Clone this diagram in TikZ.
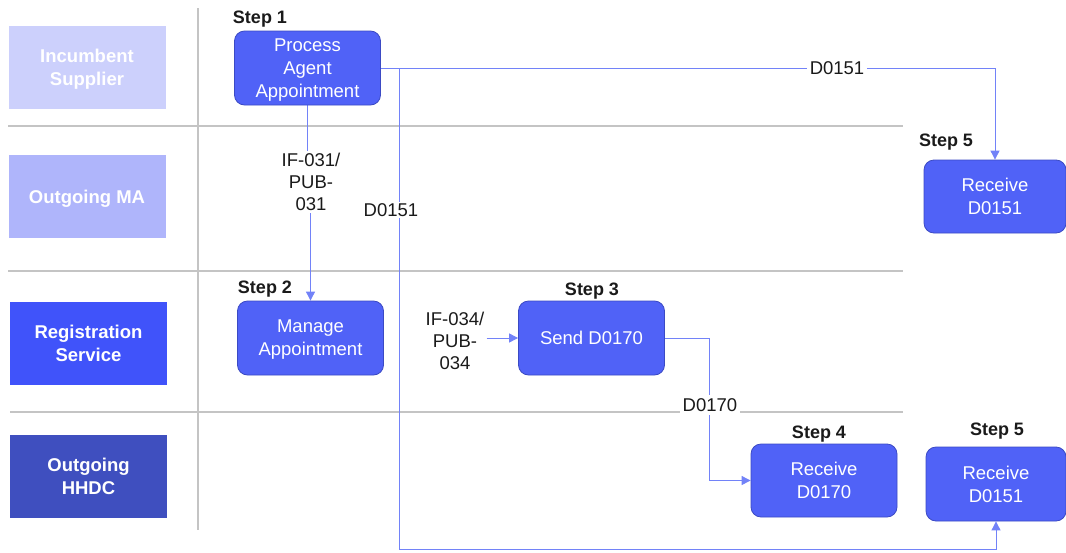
\documentclass[tikz,border=0pt]{standalone}
\usepackage{fontspec}
\setmainfont{Liberation Sans}
\usetikzlibrary{arrows.meta}
\definecolor{laneA}{HTML}{CCD0FC}
\definecolor{laneB}{HTML}{AFB5FB}
\definecolor{laneC}{HTML}{4053FA}
\definecolor{laneD}{HTML}{3F4FBF}
\definecolor{nodefill}{HTML}{5062F7}
\definecolor{nodeborder}{HTML}{3B4AC4}
\definecolor{flowc}{HTML}{7282F8}
\definecolor{sepc}{HTML}{C4C4C4}
\definecolor{txt}{HTML}{1A1A1A}
\pgfdeclarelayer{bg}
\pgfsetlayers{bg,main}
\begin{document}
\begin{tikzpicture}[x=1pt,y=-1pt,
  lanebox/.style={fill=#1, minimum width=157pt, minimum height=83pt, text=white,
    font=\fontsize{18.5}{23}\selectfont\bfseries, align=center, inner sep=0pt, text depth=0pt},
  stepbox/.style={draw=nodeborder, fill=nodefill, rounded corners=10pt, minimum width=146pt,
    minimum height=74pt, text=white, font=\fontsize{18.5}{23}\selectfont, align=center,
    inner sep=0pt, line width=0.8pt, text depth=0pt},
  steplabel/.style={font=\fontsize{18}{21}\selectfont\bfseries, text=txt},
  flowlabel/.style={font=\fontsize{18.5}{22}\selectfont, text=txt, align=center, fill=white, inner sep=3pt},
  flow/.style={draw=flowc, line width=0.9pt},
  arr/.style={-{Triangle[length=9pt,width=9pt]}, flowc},
  sep/.style={draw=sepc, line width=1.2pt}
]
\useasboundingbox (0,0) rectangle (1066,552);

% lane headers
\node[lanebox=laneA] (l1) at (87,67.5) {Incumbent\\Supplier};
\node[lanebox=laneB] (l2) at (87,196.5) {Outgoing MA};
\node[lanebox=laneC] (l3) at (88.5,343) {Registration\\Service};
\node[lanebox=laneD] (l4) at (88.5,476.5) {Outgoing\\HHDC};

% process boxes
\node[stepbox] (proc) at (307.5,68) {Process\\Agent\\Appointment};
\node[stepbox] (mng) at (310.5,338) {Manage\\Appointment};
\node[stepbox] (send) at (591.5,338) {Send D0170};
\node[stepbox, minimum height=73pt] (r170) at (824,480.5) {Receive\\D0170};
\node[stepbox, minimum width=142pt, minimum height=73pt] (rtop) at (995,196.5) {Receive\\D0151};
\node[stepbox, minimum width=140pt] (rbot) at (996,484) {Receive\\D0151};

% step labels
\node[steplabel] (s1) at (260,19.5) {Step 1};
\node[steplabel] (s2) at (265,289) {Step 2};
\node[steplabel] (s3) at (592,291) {Step 3};
\node[steplabel] (s4) at (819,434) {Step 4};
\node[steplabel] (s5a) at (946,142) {Step 5};
\node[steplabel] (s5b) at (997,431) {Step 5};

% flow labels
\node[flowlabel] (lbA) at (837,68) {D0151};
\node[flowlabel, inner sep=1pt] (lbB) at (391,210) {D0151};
\node[flowlabel, inner sep=2pt] (if031) at (311,182) {IF-031/\\PUB-\\031};
\node[flowlabel, fill=none, inner sep=2pt] (if034) at (455,341) {IF-034/\\PUB-\\034};
\node[flowlabel] (lb170) at (710,405) {D0170};

\coordinate (br) at (399,68);
\coordinate (bend) at (399,549);

\begin{pgfonlayer}{bg}
  % separators
  \draw[sep] (198,8) -- (198,530);
  \draw[sep] (8,126) -- (903,126);
  \draw[sep] (8,271) -- (903,271);
  \draw[sep] (10,412) -- (903,412);
  % flows
  \draw[flow, arr] (proc.east) -- (proc.east -| rtop.north) -- (rtop.north);
  \draw[flow, arr] (br) -- (bend) -| (rbot.south);
  \draw[flow] (proc.south) -- (proc.south |- if031.north);
  \draw[flow, arr] (mng.north |- if031.south) -- (mng.north);
  \draw[flow, arr] (if034.east |- send.west) -- (send.west);
  \draw[flow, arr] (send.east) -- ++(45,0) |- (r170.west);
\end{pgfonlayer}
\end{tikzpicture}
\end{document}
